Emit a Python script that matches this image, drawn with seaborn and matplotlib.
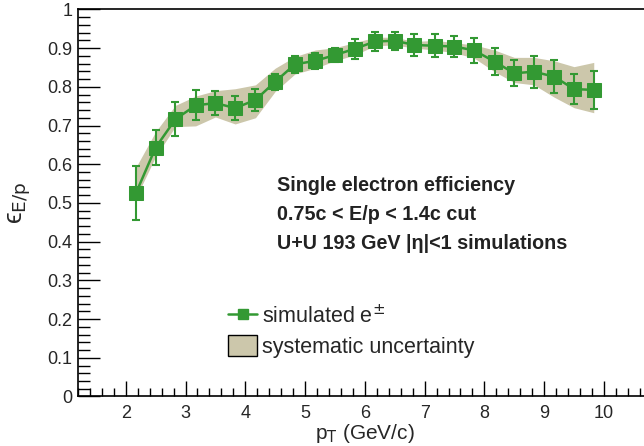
import numpy as np
import pandas as pd
import matplotlib
matplotlib.use('Agg')
import matplotlib.pyplot as plt
import seaborn as sns
from matplotlib.lines import Line2D
from matplotlib.patches import Patch
from matplotlib.ticker import MultipleLocator, FuncFormatter

# dados
pt = [2.17, 2.5, 2.83, 3.17, 3.5, 3.83, 4.17, 4.5, 4.83, 5.17, 5.5, 5.83,
      6.17, 6.5, 6.83, 7.17, 7.5, 7.83, 8.17, 8.5, 8.83, 9.17, 9.5, 9.83]
eff = [0.525, 0.643, 0.716, 0.752, 0.758, 0.745, 0.766, 0.813, 0.858, 0.867, 0.882, 0.898,
       0.917, 0.919, 0.908, 0.906, 0.904, 0.894, 0.865, 0.835, 0.839, 0.826, 0.794, 0.792]
err = [0.070, 0.045, 0.044, 0.039, 0.032, 0.032, 0.029, 0.021, 0.022, 0.021, 0.019, 0.025,
       0.025, 0.023, 0.029, 0.030, 0.028, 0.033, 0.035, 0.033, 0.041, 0.043, 0.039, 0.050]
sys_up = [0.592, 0.684, 0.752, 0.776, 0.790, 0.795, 0.805, 0.848, 0.878, 0.895, 0.901, 0.914,
          0.928, 0.928, 0.917, 0.920, 0.914, 0.908, 0.895, 0.876, 0.876, 0.867, 0.852, 0.863]
sys_lo = [0.513, 0.620, 0.697, 0.699, 0.722, 0.704, 0.720, 0.788, 0.833, 0.848, 0.867, 0.882,
          0.906, 0.908, 0.900, 0.895, 0.888, 0.874, 0.839, 0.811, 0.805, 0.773, 0.746, 0.733]

df = pd.DataFrame({'pt': pt, 'eff': eff, 'err': err, 'up': sys_up, 'lo': sys_lo})

verde = '#339933'
banda = '#ccc7ab'

sns.set_style('ticks')
plt.rcParams['font.family'] = ['Liberation Sans', 'DejaVu Sans']

fig = plt.figure(figsize=(6.44, 4.46), dpi=100)
ax = fig.add_axes([0.121, 0.111, 0.891, 0.868])

ax.fill_between(df['pt'], df['lo'], df['up'], color=banda, lw=0, zorder=1)
ax.errorbar(df['pt'], df['eff'], yerr=df['err'], fmt='none', ecolor=verde,
            elinewidth=1.5, capsize=3, capthick=1.5, zorder=2)
sns.lineplot(data=df, x='pt', y='eff', color=verde, marker='s', markersize=9.5,
             markeredgecolor=verde, linewidth=1.8, ax=ax, zorder=3)

ax.set_xlim(1.2, 10.8)
ax.set_ylim(0, 1)
ax.xaxis.set_major_locator(MultipleLocator(1))
ax.xaxis.set_minor_locator(MultipleLocator(0.2))
ax.yaxis.set_major_locator(MultipleLocator(0.1))
ax.yaxis.set_minor_locator(MultipleLocator(0.02))
ax.yaxis.set_major_formatter(FuncFormatter(lambda v, p: '%g' % round(v, 2)))
ax.xaxis.set_major_formatter(FuncFormatter(lambda v, p: '%g' % v))
ax.tick_params(which='both', direction='in', labelsize=13, color='black')
ax.tick_params(axis='x', which='major', length=11, width=1, pad=6)
ax.tick_params(axis='x', which='minor', length=5.5, width=1)
ax.tick_params(axis='y', which='major', length=16, width=1, pad=4)
ax.tick_params(axis='y', which='minor', length=8.5, width=1)
for s in ['left', 'bottom', 'top']:
    ax.spines[s].set_linewidth(1.2)
    ax.spines[s].set_color('black')
ax.spines['right'].set_visible(False)

ax.set_xlabel(r'p$_{\mathrm{T}}$ (GeV/c)', fontsize=15, labelpad=0)
ax.set_ylabel(r'ϵ$_{\mathrm{E/p}}$', fontsize=19, labelpad=10)

ax.text(0.347, 0.544, 'Single electron efficiency', transform=ax.transAxes,
        fontsize=14.2, fontweight='bold', color='#222222', va='center')
ax.text(0.347, 0.469, '0.75c < E/p < 1.4c cut', transform=ax.transAxes,
        fontsize=14.2, fontweight='bold', color='#222222', va='center')
ax.text(0.347, 0.394, 'U+U 193 GeV |η|<1 simulations', transform=ax.transAxes,
        fontsize=14.2, fontweight='bold', color='#222222', va='center')

handles = [Line2D([0], [0], color=verde, marker='s', markersize=7.5, linewidth=1.8),
           Patch(facecolor=banda, edgecolor='black', linewidth=1)]
ax.legend(handles, [r'simulated e$^{\pm}$', 'systematic uncertainty'],
          loc='upper left', bbox_to_anchor=(0.2615, 0.237), frameon=False,
          fontsize=15.5, handlelength=1.35, handleheight=1.1, labelspacing=0.32,
          handletextpad=0.25, borderpad=0, borderaxespad=0)

plt.savefig('out.png', dpi=100)
